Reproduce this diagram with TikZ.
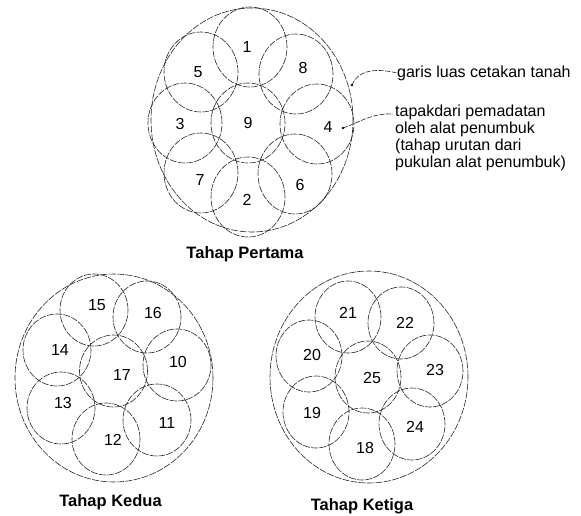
\documentclass[tikz,border=0pt]{standalone}
\usepackage{fontspec}
\setmainfont{Liberation Sans}
\begin{document}
\begin{tikzpicture}[x=1pt,y=-1pt,
  circ/.style={draw=black!85, line width=0.6pt, dash pattern=on 7pt off 1.3pt},
  num/.style={inner sep=0pt, font=\fontsize{16}{17}\selectfont},
  ttl/.style={inner sep=0pt, font=\fontsize{16.5}{18}\selectfont\bfseries},
  lbl/.style={inner sep=0pt, align=left, font=\fontsize{16}{17}\selectfont},
  leader/.style={draw=black!85, line width=0.6pt, dash pattern=on 5pt off 1.5pt}]
\useasboundingbox (0,0) rectangle (581,515);
% ---------- Tahap Pertama ----------
\draw[circ] (252,120) ellipse [x radius=101pt, y radius=112pt];
\foreach \cx/\cy in {250/47, 248/123, 185/123, 317/124, 201/72, 296/74, 201/173, 295/174, 248/197}
  \draw[circ] (\cx,\cy) ellipse [x radius=37pt, y radius=40pt];
\node[num] (n1) at (247,47) {1};
\node[num] (n2) at (247,200) {2};
\node[num] (n3) at (180,124) {3};
\node[num] (n4) at (328,127) {4};
\node[num] (n5) at (198,72) {5};
\node[num] (n6) at (300,185) {6};
\node[num] (n7) at (200,180) {7};
\node[num] (n8) at (303,68) {8};
\node[num] (n9) at (248,123) {9};
\node[ttl, anchor=base] (t1) at (245,258) {Tahap Pertama};
% labels
\node[lbl, anchor=west] (la) at (397,73) {garis luas cetakan tanah};
\node[lbl, anchor=north west] (lb) at (395,105) {tapakdari pemadatan\\oleh alat penumbuk\\(tahap urutan dari\\pukulan alat penumbuk)};
\coordinate (pa) at (352,85);
\coordinate (pb) at (343,128);
\fill (pa) circle (1.4pt);
\fill (pb) circle (1.4pt);
\draw[leader] (pa) .. controls (357,72) and (372,67) .. (la.west);
\draw[leader] (pb) .. controls (360,122) and (372,113) .. ([xshift=-2pt]lb.north west |- 0,114);
% ---------- Tahap Kedua ----------
\draw[circ] (114,378) ellipse [x radius=99pt, y radius=104pt];
\foreach \cx/\cy in {113.5/371, 94/310, 147/317, 177/365, 157/420, 106/439, 61/408, 57/350}
  \draw[circ] (\cx,\cy) ellipse [x radius=34pt, y radius=36pt];
\node[num] (n10) at (178,362) {10};
\node[num] (n11) at (167,423) {11};
\node[num] (n12) at (113,440) {12};
\node[num] (n13) at (63,403) {13};
\node[num] (n14) at (60,350) {14};
\node[num] (n15) at (97,305) {15};
\node[num] (n16) at (153,313) {16};
\node[num] (n17) at (122,375) {17};
\node[ttl, anchor=base] (t2) at (110.5,506) {Tahap Kedua};
% ---------- Tahap Ketiga ----------
\draw[circ] (369,377) ellipse [x radius=99pt, y radius=106pt];
\foreach \cx/\cy in {368/377, 348/317, 401/323, 430/371, 412/424, 362/444, 316/412, 309/356}
  \draw[circ] (\cx,\cy) ellipse [x radius=33pt, y radius=36pt];
\node[num] (n18) at (365,448) {18};
\node[num] (n19) at (312,413) {19};
\node[num] (n20) at (312,355) {20};
\node[num] (n21) at (348,313) {21};
\node[num] (n22) at (405,323) {22};
\node[num] (n23) at (435,370) {23};
\node[num] (n24) at (415,427) {24};
\node[num] (n25) at (372,378) {25};
\node[ttl, anchor=base] (t3) at (362,510) {Tahap Ketiga};
\end{tikzpicture}
\end{document}
